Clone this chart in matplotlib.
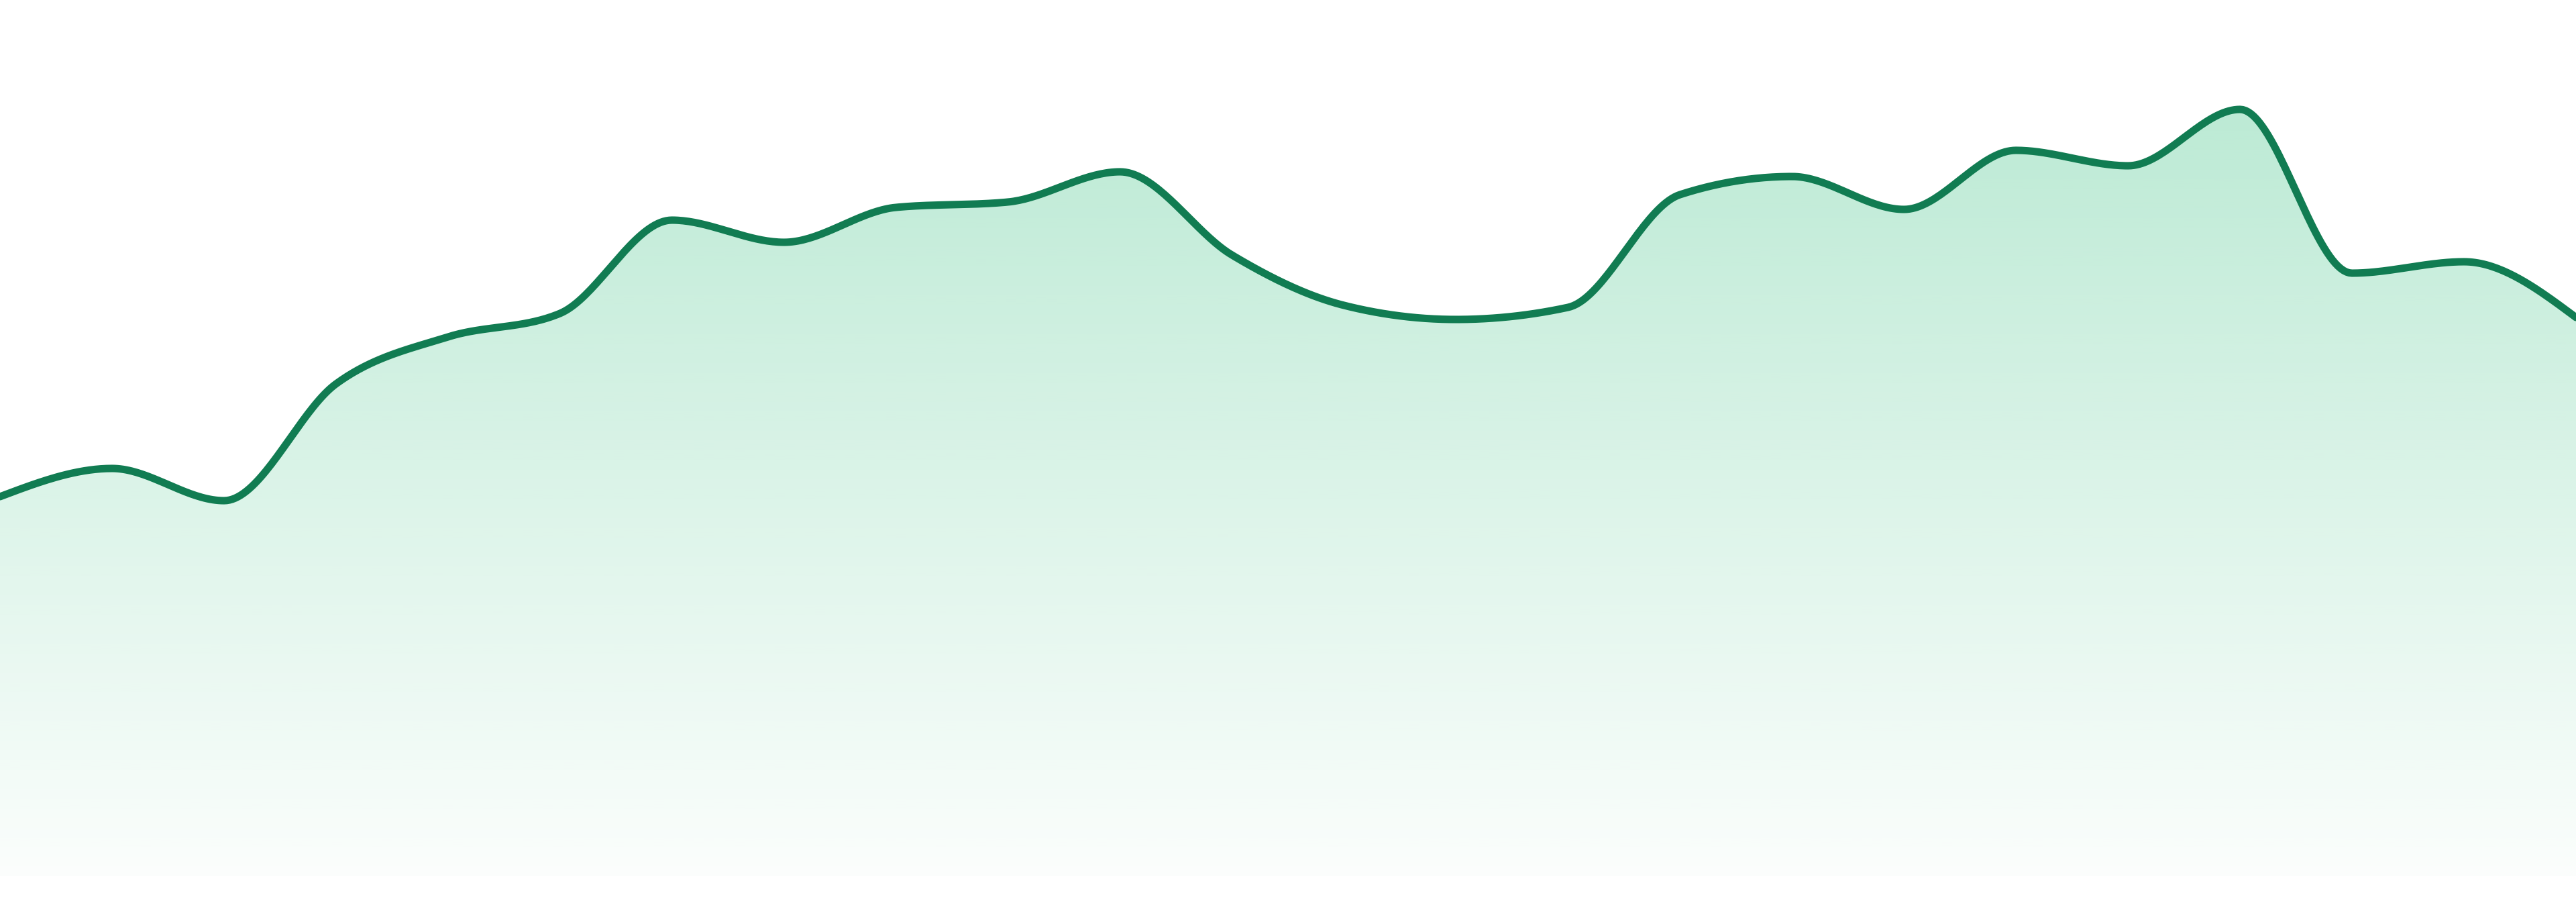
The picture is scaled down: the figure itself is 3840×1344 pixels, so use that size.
import numpy as np
import matplotlib
matplotlib.use("Agg")
import matplotlib.pyplot as plt
from matplotlib.patches import PathPatch
from matplotlib.path import Path

# data (one value per period)
periods = list(range(24))
values = [56.5, 60.7, 55.9, 73.3, 80.3, 83.8, 97.7, 94.4, 99.6, 100.4,
          104.9, 92.5, 85.0, 82.9, 84.7, 101.5, 104.2, 99.3, 108.1, 105.8,
          114.2, 89.8, 91.5, 83.2]

line_color = "#117c52"
fill_rgb = (52 / 255, 192 / 255, 127 / 255)


def monotone_x(x, y, n=40):
    """Monotone cubic interpolation (Steffen, as in d3.curveMonotoneX)."""
    x = np.asarray(x, float)
    y = np.asarray(y, float)
    h = np.diff(x)
    s = np.diff(y) / h
    m = np.zeros_like(y)
    for i in range(1, len(y) - 1):
        h0, h1 = h[i - 1], h[i]
        s0, s1 = s[i - 1], s[i]
        p = (s0 * h1 + s1 * h0) / (h0 + h1)
        m[i] = (np.sign(s0) + np.sign(s1)) * min(abs(s0), abs(s1), 0.5 * abs(p))
    m[0] = (3 * s[0] - m[1]) / 2
    m[-1] = (3 * s[-1] - m[-2]) / 2
    xs, ys = [], []
    for i in range(len(x) - 1):
        t = np.linspace(0, 1, n, endpoint=False)
        hh = h[i]
        h00 = 2 * t**3 - 3 * t**2 + 1
        h10 = t**3 - 2 * t**2 + t
        h01 = -2 * t**3 + 3 * t**2
        h11 = t**3 - t**2
        xs.append(x[i] + t * hh)
        ys.append(h00 * y[i] + h10 * hh * m[i] + h01 * y[i + 1] + h11 * hh * m[i + 1])
    xs.append([x[-1]])
    ys.append([y[-1]])
    return np.concatenate(xs), np.concatenate(ys)


fig = plt.figure(figsize=(38.4, 13.44), dpi=100)
ax = fig.add_axes([0, 0, 1, 1])
ax.set_xlim(0, 23)
ax.set_ylim(-3.9, 130.5)
ax.axis("off")

xs, ys = monotone_x(periods, values)

# gradient fill clipped to the area
ymax = max(values)
ny = 600
alpha = np.linspace(0.02, 0.33, ny)[:, None]
grad = np.zeros((ny, 1, 4))
grad[..., 0] = fill_rgb[0]
grad[..., 1] = fill_rgb[1]
grad[..., 2] = fill_rgb[2]
grad[..., 3] = alpha
im = ax.imshow(grad, extent=[0, 23, 0, ymax], origin="lower", aspect="auto",
               interpolation="bilinear", zorder=1)
verts = np.vstack([np.column_stack([xs, ys]), [[23, 0], [0, 0], [xs[0], ys[0]]]])
codes = [Path.MOVETO] + [Path.LINETO] * (len(verts) - 2) + [Path.CLOSEPOLY]
patch = PathPatch(Path(verts, codes), facecolor="none", edgecolor="none")
ax.add_patch(patch)
im.set_clip_path(patch)

ax.plot(xs, ys, color=line_color, lw=8, solid_capstyle="round",
        solid_joinstyle="round", zorder=3)

fig.savefig("out.png", dpi=100, facecolor="white")
